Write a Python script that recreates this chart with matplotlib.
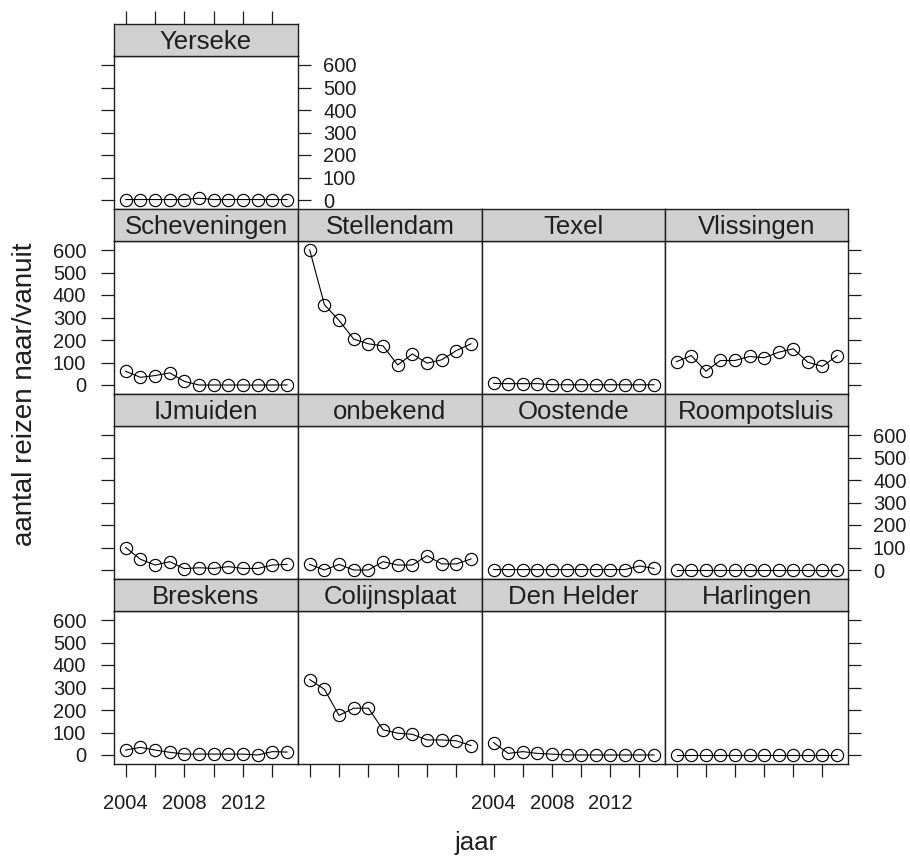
import matplotlib
matplotlib.use("Agg")
import matplotlib.pyplot as plt

plt.rcParams["font.family"] = ["Liberation Sans", "DejaVu Sans"]

# data (trips per year per port)
years = [2004, 2005, 2006, 2007, 2008, 2009, 2010, 2011, 2012, 2013, 2014, 2015]

yerseke = [2, 2, 2, 2, 2, 8, 2, 2, 2, 2, 2, 2]
scheveningen = [61, 34, 42, 54, 16, 0, 0, 0, 0, 0, 0, 0]
stellendam = [600, 357, 287, 204, 183, 174, 89, 138, 97, 112, 153, 183]
texel = [7, 6, 6, 6, 1, 1, 1, 1, 1, 1, 1, 1]
vlissingen = [104, 131, 61, 109, 109, 127, 121, 146, 161, 101, 83, 130]
ijmuiden = [100, 48, 22, 37, 6, 10, 7, 15, 7, 7, 22, 25]
onbekend = [25, 0, 25, 0, 0, 37, 22, 22, 64, 27, 27, 49]
oostende = [2, 2, 2, 2, 2, 2, 2, 2, 2, 2, 18, 7]
roompotsluis = [1, 1, 1, 1, 1, 1, 1, 1, 1, 1, 1, 1]
breskens = [22, 34, 22, 12, 4, 4, 4, 4, 4, 0, 15, 13]
colijnsplaat = [335, 292, 176, 208, 208, 112, 97, 92, 67, 67, 63, 42]
den_helder = [55, 7, 15, 7, 4, 0, 0, 0, 0, 0, 0, 0]
harlingen = [1, 1, 1, 1, 1, 1, 1, 1, 1, 1, 1, 1]

# lattice layout, top row first
rows = [
    [("Yerseke", yerseke)],
    [("Scheveningen", scheveningen), ("Stellendam", stellendam),
     ("Texel", texel), ("Vlissingen", vlissingen)],
    [("IJmuiden", ijmuiden), ("onbekend", onbekend),
     ("Oostende", oostende), ("Roompotsluis", roompotsluis)],
    [("Breskens", breskens), ("Colijnsplaat", colijnsplaat),
     ("Den Helder", den_helder), ("Harlingen", harlingen)],
]

yticks = [0, 100, 200, 300, 400, 500, 600]
xticks = [2004, 2006, 2008, 2010, 2012, 2014]
xlabels = ["2004", "", "2008", "", "2012", ""]

W, H = 910, 861
col_x = [114, 298, 482, 665, 848]
row_top = [24, 209, 394, 579]
strip_h = 32
panel_h = 153
STRIP = "#d0d0d0"
INK = "#1e1e1e"
TICK_LEN = 9.5
FS_TICK = 14.5
FS_STRIP = 18.5


def box(x0, x1, ytop, ybot):
    return [x0 / W, 1 - ybot / H, (x1 - x0) / W, (ybot - ytop) / H]


fig = plt.figure(figsize=(W / 100, H / 100), dpi=100)

for r, row in enumerate(rows):
    for c, (name, vals) in enumerate(row):
        x0, x1 = col_x[c], col_x[c + 1]
        top = row_top[r]
        # panel
        ax = fig.add_axes(box(x0, x1, top + strip_h, top + strip_h + panel_h))
        ax.plot(years, vals, "-o", color="black", lw=0.8, ms=8.8,
                mfc="none", mec="black", mew=0.85)
        ax.set_xlim(2003.2, 2015.75)
        ax.set_ylim(-40, 640)
        for s in ax.spines.values():
            s.set_linewidth(1.0)
            s.set_color(INK)
        ax.tick_params(direction="out", length=TICK_LEN, width=0.9,
                       labelsize=FS_TICK, colors=INK)
        ax.set_yticks(yticks)
        ax.set_xticks(xticks)
        ax.set_xticklabels(xlabels)

        first = c == 0
        last = c == len(row) - 1
        ax.tick_params(axis="y", left=first, right=last,
                       labelleft=first and r % 2 == 1,
                       labelright=last and r % 2 == 0)
        if first:
            ax.tick_params(axis="y", which="major", pad=10.5)
        if last and r % 2 == 0:
            ax.tick_params(axis="y", which="major", pad=8.5)
        bottom_row = r == len(rows) - 1
        ax.tick_params(axis="x", bottom=bottom_row, top=False,
                       labelbottom=bottom_row and c % 2 == 0, labeltop=False,
                       pad=12)

        # strip
        st = fig.add_axes(box(x0, x1, top, top + strip_h))
        st.set_facecolor(STRIP)
        st.set_xlim(2003.2, 2015.75)
        st.set_ylim(0, 1)
        for s in st.spines.values():
            s.set_linewidth(1.0)
            s.set_color(INK)
        st.set_yticks([])
        if r == 0:
            st.set_xticks(xticks)
            st.tick_params(axis="x", bottom=False, top=True, labelbottom=False,
                           labeltop=False, direction="out", length=TICK_LEN,
                           width=0.9, colors=INK)
        else:
            st.set_xticks([])
        st.text(0.5, 0.45, name, transform=st.transAxes, ha="center",
                va="center", fontsize=FS_STRIP, color=INK)

fig.text(476 / W, 1 - 843 / H, "jaar", ha="center", va="center",
         fontsize=FS_STRIP, color=INK)
fig.text(25 / W, 1 - 394 / H, "aantal reizen naar/vanuit", ha="center",
         va="center", rotation=90, fontsize=20, color=INK)

fig.savefig("out.png", dpi=100)
